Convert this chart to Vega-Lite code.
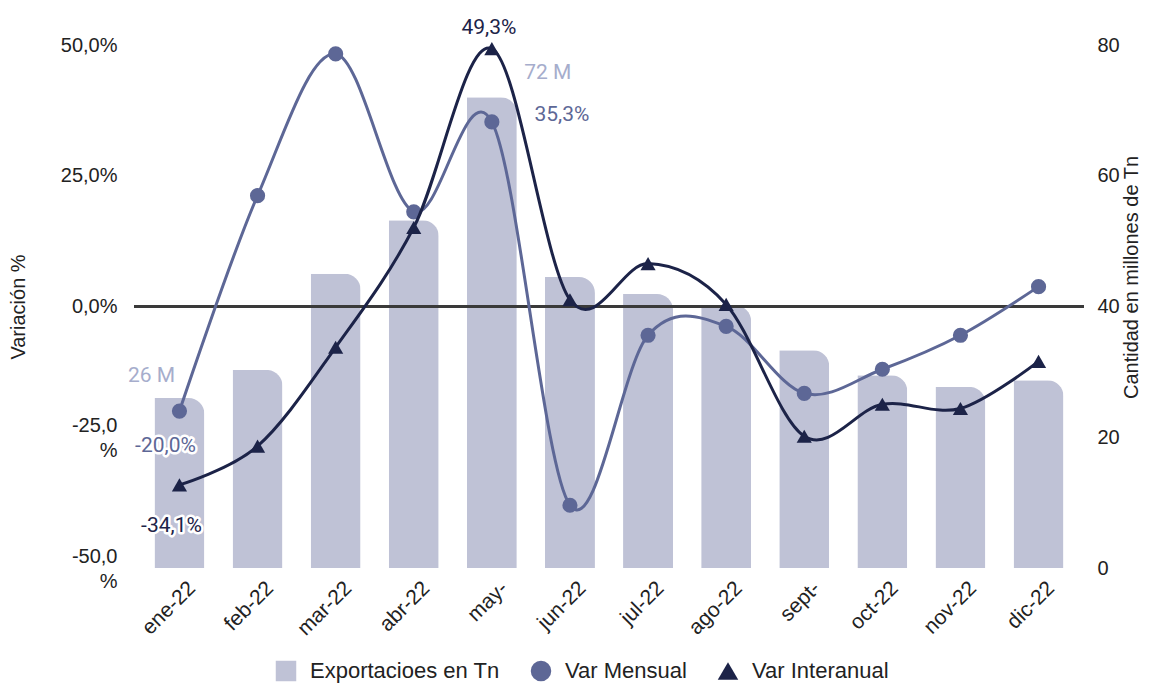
{
  "$schema": "https://vega.github.io/schema/vega-lite/v6.json",
  "width": 950,
  "height": 523,
  "autosize": {"type": "none"},
  "padding": {"left": 134, "top": 45, "right": 66, "bottom": 117},
  "background": "white",
  "config": {
    "font": "Liberation Sans",
    "view": {"stroke": null},
    "locale": {"number": {"decimal": ",", "thousands": ".", "grouping": [3], "currency": ["", " M"], "minus": "-"}},
    "axis": {"grid": false, "domain": false, "ticks": false, "labelFont": "Liberation Sans", "labelFontSize": 20, "labelColor": "#222222", "titleFont": "Liberation Sans", "titleFontSize": 20, "titleFontWeight": "normal", "titleColor": "#222222"}
  },
  "datasets": {
    "meses": [
      {"mes": "ene-22", "Exportaciones": 26, "Var Mensual": -0.200, "Var Interanual": -0.341},
      {"mes": "feb-22", "Exportaciones": 30.3, "Var Mensual": 0.212, "Var Interanual": -0.267},
      {"mes": "mar-22", "Exportaciones": 45.0, "Var Mensual": 0.483, "Var Interanual": -0.078},
      {"mes": "abr-22", "Exportaciones": 53.2, "Var Mensual": 0.181, "Var Interanual": 0.151},
      {"mes": "may-22", "Exportaciones": 72, "Var Mensual": 0.353, "Var Interanual": 0.493},
      {"mes": "jun-22", "Exportaciones": 44.5, "Var Mensual": -0.380, "Var Interanual": 0.013},
      {"mes": "jul-22", "Exportaciones": 41.9, "Var Mensual": -0.055, "Var Interanual": 0.082},
      {"mes": "ago-22", "Exportaciones": 40.2, "Var Mensual": -0.038, "Var Interanual": 0.004},
      {"mes": "sept-22", "Exportaciones": 33.3, "Var Mensual": -0.166, "Var Interanual": -0.248},
      {"mes": "oct-22", "Exportaciones": 29.5, "Var Mensual": -0.120, "Var Interanual": -0.187},
      {"mes": "nov-22", "Exportaciones": 27.7, "Var Mensual": -0.055, "Var Interanual": -0.195},
      {"mes": "dic-22", "Exportaciones": 28.7, "Var Mensual": 0.038, "Var Interanual": -0.105}
    ]
  },
  "data": {"name": "meses"},
  "layer": [
    {
      "encoding": {
        "x": {
          "field": "mes", "type": "nominal", "sort": null, "title": null,
          "scale": {"paddingInner": 0.36, "paddingOuter": 0.262},
          "axis": {"labelAngle": -45, "labelPadding": 9, "labelOffset": 5, "labelFontSize": 21,
            "labelExpr": "datum.value == 'may-22' ? 'may-' : datum.value == 'sept-22' ? 'sept-' : datum.value"}
        }
      },
      "layer": [
        {
          "mark": {"type": "bar", "cornerRadiusTopRight": 16},
          "encoding": {
            "y": {"field": "Exportaciones", "type": "quantitative",
              "scale": {"domain": [0, 80]},
              "axis": {"orient": "right", "title": "Cantidad en millones de Tn", "titleAngle": 270, "titleY": 232, "values": [0, 20, 40, 60, 80], "labelPadding": 13, "titlePadding": 22}},
            "color": {"datum": "Exportacioes en Tn", "type": "nominal",
              "scale": {"domain": ["Exportacioes en Tn", "Var Mensual", "Var Interanual"], "range": ["#bfc2d6", "#5d6796", "#1c2348"]},
              "legend": {"title": null, "orient": "none", "direction": "horizontal", "legendX": 141, "legendY": 615,
                "labelFont": "Liberation Sans", "labelFontSize": 22, "labelLimit": 400, "labelColor": "#222222", "symbolSize": 420, "labelOffset": 13, "columnPadding": 30, "symbolStrokeWidth": 0, "symbolOpacity": 1}}
          }
        },
        {
          "transform": [{"filter": "datum.mes == 'ene-22'"}],
          "mark": {"type": "text", "font": "Roboto", "fontSize": 21, "color": "#a6adcc", "dx": -28, "dy": -22},
          "encoding": {"y": {"field": "Exportaciones", "type": "quantitative"}, "text": {"field": "Exportaciones", "type": "quantitative", "format": "$.0f"}}
        },
        {
          "transform": [{"filter": "datum.mes == 'may-22'"}],
          "mark": {"type": "text", "font": "Roboto", "fontSize": 21, "color": "#a6adcc", "dx": 56, "dy": -24},
          "encoding": {"y": {"field": "Exportaciones", "type": "quantitative"}, "text": {"field": "Exportaciones", "type": "quantitative", "format": "$.0f"}}
        }
      ]
    },
    {
      "layer": [
        {
          "mark": {"type": "rule", "color": "#3a3a3a", "strokeWidth": 2},
          "encoding": {"y": {"datum": 0, "type": "quantitative", "scale": {"domain": [-0.5, 0.5]},
            "axis": {"orient": "left", "title": "Variación %", "values": [-0.5, -0.25, 0, 0.25, 0.5], "format": ".1%", "labelPadding": 17, "titlePadding": 32, "labelLineHeight": 25,
              "labelOffset": {"condition": {"test": "datum.value < 0", "value": -12}, "value": 0},
              "labelExpr": "datum.value < 0 ? [replace(datum.label, '%', ''), '%'] : datum.label"}}}
        },
        {
          "mark": {"type": "line", "interpolate": "cardinal", "color": "#5d6796", "strokeWidth": 3},
          "encoding": {"x": {"field": "mes", "type": "nominal", "sort": null},
            "y": {"field": "Var Mensual", "type": "quantitative"}}
        },
        {
          "mark": {"type": "point", "filled": true, "opacity": 1, "size": 230},
          "encoding": {"x": {"field": "mes", "type": "nominal", "sort": null},
            "y": {"field": "Var Mensual", "type": "quantitative"},
            "color": {"datum": "Var Mensual", "type": "nominal"},
            "shape": {"datum": "Var Mensual", "type": "nominal",
              "scale": {"domain": ["Exportacioes en Tn", "Var Mensual", "Var Interanual"], "range": ["square", "circle", "triangle-up"]}}}
        },
        {
          "mark": {"type": "line", "interpolate": "cardinal", "color": "#1c2348", "strokeWidth": 3},
          "encoding": {"x": {"field": "mes", "type": "nominal", "sort": null},
            "y": {"field": "Var Interanual", "type": "quantitative"}}
        },
        {
          "mark": {"type": "point", "filled": true, "opacity": 1, "size": 230},
          "encoding": {"x": {"field": "mes", "type": "nominal", "sort": null},
            "y": {"field": "Var Interanual", "type": "quantitative"},
            "color": {"datum": "Var Interanual", "type": "nominal"},
            "shape": {"datum": "Var Interanual", "type": "nominal"}}
        },
        {
          "transform": [{"filter": "datum.mes == 'ene-22'"}],
          "mark": {"type": "text", "font": "Roboto", "fontSize": 21, "stroke": "white", "strokeWidth": 5, "strokeJoin": "round", "color": "white", "dx": -14, "dy": 35},
          "encoding": {"x": {"field": "mes", "type": "nominal", "sort": null},
            "y": {"field": "Var Mensual", "type": "quantitative"}, "text": {"field": "Var Mensual", "type": "quantitative", "format": ".1%"}}
        },
        {
          "transform": [{"filter": "datum.mes == 'ene-22'"}],
          "mark": {"type": "text", "font": "Roboto", "fontSize": 21, "color": "#5d6796", "dx": -14, "dy": 35},
          "encoding": {"x": {"field": "mes", "type": "nominal", "sort": null},
            "y": {"field": "Var Mensual", "type": "quantitative"}, "text": {"field": "Var Mensual", "type": "quantitative", "format": ".1%"}}
        },
        {
          "transform": [{"filter": "datum.mes == 'may-22'"}],
          "mark": {"type": "text", "font": "Roboto", "fontSize": 21, "color": "#5d6796", "dx": 70, "dy": -7},
          "encoding": {"x": {"field": "mes", "type": "nominal", "sort": null},
            "y": {"field": "Var Mensual", "type": "quantitative"}, "text": {"field": "Var Mensual", "type": "quantitative", "format": ".1%"}}
        },
        {
          "transform": [{"filter": "datum.mes == 'ene-22'"}],
          "mark": {"type": "text", "font": "Roboto", "fontSize": 21, "stroke": "white", "strokeWidth": 5, "strokeJoin": "round", "color": "white", "dx": -8, "dy": 41},
          "encoding": {"x": {"field": "mes", "type": "nominal", "sort": null},
            "y": {"field": "Var Interanual", "type": "quantitative"}, "text": {"field": "Var Interanual", "type": "quantitative", "format": ".1%"}}
        },
        {
          "transform": [{"filter": "datum.mes == 'ene-22'"}],
          "mark": {"type": "text", "font": "Roboto", "fontSize": 21, "color": "#1c2348", "dx": -8, "dy": 41},
          "encoding": {"x": {"field": "mes", "type": "nominal", "sort": null},
            "y": {"field": "Var Interanual", "type": "quantitative"}, "text": {"field": "Var Interanual", "type": "quantitative", "format": ".1%"}}
        },
        {
          "transform": [{"filter": "datum.mes == 'may-22'"}],
          "mark": {"type": "text", "font": "Roboto", "fontSize": 21, "color": "#1c2348", "dx": -3, "dy": -21},
          "encoding": {"x": {"field": "mes", "type": "nominal", "sort": null},
            "y": {"field": "Var Interanual", "type": "quantitative"}, "text": {"field": "Var Interanual", "type": "quantitative", "format": ".1%"}}
        }
      ]
    }
  ],
  "resolve": {"scale": {"y": "independent"}}
}
